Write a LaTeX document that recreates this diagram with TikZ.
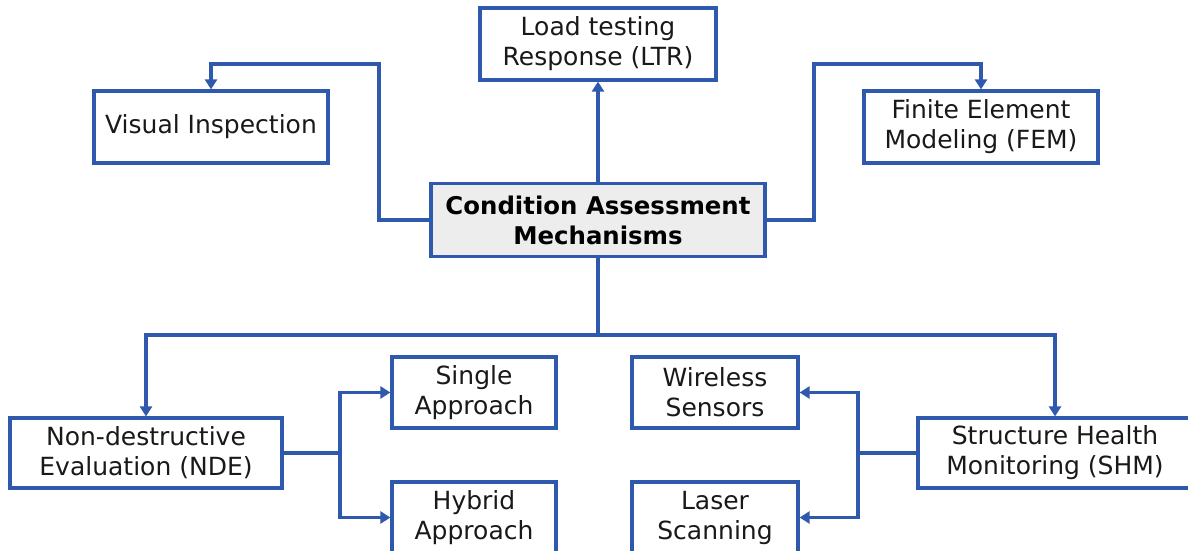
\documentclass[tikz,border=0pt]{standalone}
\usepackage{fontspec}
\setmainfont{DejaVu Sans}
\usetikzlibrary{arrows.meta}
\definecolor{linkblue}{RGB}{46,89,172}
\definecolor{hubgray}{RGB}{237,237,237}
\begin{document}
\begin{tikzpicture}[x=0.5pt,y=-0.5pt,
  box/.style={draw=linkblue,line width=1.6pt,fill=white,align=center,
    inner sep=0pt,font=\fontsize{12.5}{15}\selectfont,text=black!90},
  hub/.style={box,fill=hubgray,font=\fontsize{12.2}{15}\selectfont\bfseries,text=black},
  link/.style={draw=linkblue,line width=1.6pt},
  arr/.style={link,-{Triangle[length=5pt,width=6pt]}}]
\useasboundingbox (0,0) rectangle (1188,551);
\clip (0,0) rectangle (1188,551);

% boxes
\node[box,minimum width=118pt,minimum height=36pt] (ltr) at (598,44) {Load testing\\Response (LTR)};
\node[box,minimum width=117pt,minimum height=36pt] (vi) at (211,127) {Visual Inspection};
\node[box,minimum width=117pt,minimum height=36pt] (fem) at (981,127) {Finite Element\\Modeling (FEM)};
\node[hub,minimum width=167pt,minimum height=36.5pt] (cam) at (598,220) {Condition Assessment\\Mechanisms};
\node[box,minimum width=136pt,minimum height=35pt] (nde) at (146,453) {Non-destructive\\Evaluation (NDE)};
\node[box,minimum width=82pt,minimum height=35.5pt] (single) at (474,392.5) {Single\\Approach};
\node[box,minimum width=82pt,minimum height=35.5pt] (hybrid) at (474,517.5) {Hybrid\\Approach};
\node[box,minimum width=83pt,minimum height=35.5pt] (wireless) at (715,392.5) {Wireless\\Sensors};
\node[box,minimum width=83pt,minimum height=35.5pt] (laser) at (715,517.5) {Laser\\Scanning};
\node[box,minimum width=137pt,minimum height=35pt] (shm) at (1055,453) {Structure Health\\Monitoring (SHM)};

% bend points
\coordinate (vibend) at (379,64);
\coordinate (fembend) at (814,64);
\coordinate (bus) at (598,335);
\coordinate (ndefork) at (340,453);
\coordinate (shmfork) at (858,453);

% connectors
\draw[arr] (cam.north) -- (ltr.south);
\draw[arr] (cam.west) -| (vibend) -| (vi.north);
\draw[arr] (cam.east) -| (fembend) -| (fem.north);
\draw[link] (cam.south) -- (bus);
\draw[arr] (bus) -| (nde.north);
\draw[arr] (bus) -| (shm.north);
\draw[link] (nde.east) -- (ndefork);
\draw[arr] (ndefork) |- (single.west);
\draw[arr] (ndefork) |- (hybrid.west);
\draw[link] (shm.west) -- (shmfork);
\draw[arr] (shmfork) |- (wireless.east);
\draw[arr] (shmfork) |- (laser.east);
\end{tikzpicture}
\end{document}
